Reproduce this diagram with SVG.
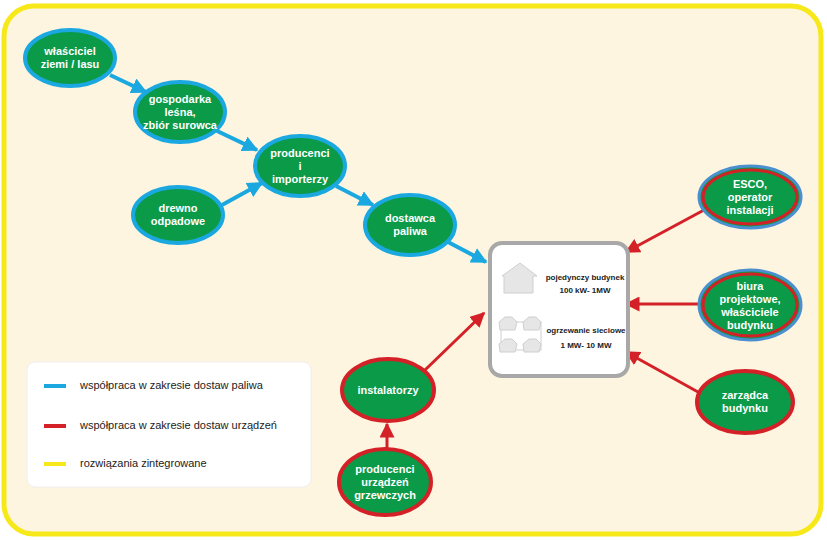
<svg xmlns="http://www.w3.org/2000/svg" width="827" height="540" viewBox="0 0 827 540">
<defs>
<style>
.n{fill:#0b9a48}
.b{stroke:#1ba8e0;stroke-width:4}
.r{stroke:#d42128;stroke-width:4}
.t{font-family:"Liberation Sans",Arial,sans-serif;font-weight:bold;font-size:11px;fill:#fff;text-anchor:middle}
.bl{stroke:#1ba8e0;stroke-width:4;fill:none;marker-end:url(#ab)}
.rl{stroke:#d42128;stroke-width:3;fill:none;marker-end:url(#ar)}
.lg{font-family:"Liberation Sans",Arial,sans-serif;font-size:11px;fill:#222}
.s{font-family:"Liberation Sans",Arial,sans-serif;font-weight:bold;font-size:8px;fill:#222}
.h{fill:#e6e6e6;stroke:#cfcfcf;stroke-width:1}
</style>
<marker id="ab" viewBox="0 0 10 10" refX="9" refY="5" markerWidth="4" markerHeight="4" orient="auto"><path d="M0 0L10 5L0 10z" fill="#1ba8e0"/></marker>
<marker id="ar" viewBox="0 0 10 10" refX="9" refY="5" markerWidth="5" markerHeight="5" orient="auto"><path d="M0 0L10 5L0 10z" fill="#d42128"/></marker>
</defs>
<rect x="4" y="6" width="817" height="528" rx="30" fill="#fdf5df" stroke="#f7e81a" stroke-width="5"/>
<g id="connectors">
<path class="bl" d="M110 75L146 92"/>
<path class="bl" d="M215 130L257 150"/>
<path class="bl" d="M222 205L262 183"/>
<path class="bl" d="M336 186L373 205"/>
<path class="bl" d="M448 242L486 262"/>
<path class="rl" d="M704 210L626 252"/>
<path class="rl" d="M698 304L626 304"/>
<path class="rl" d="M698 392L626 352"/>
<path class="rl" d="M425 370L484 313"/>
<path class="rl" d="M387 450L387 424"/>
</g>
<g id="n1"><ellipse class="n b" cx="70" cy="58" rx="45" ry="28"/><text class="t" x="70" y="55">właściciel</text><text class="t" x="70" y="68">ziemi / lasu</text></g>
<g id="n2"><ellipse class="n b" cx="180" cy="112" rx="45" ry="30"/><text class="t" x="180" y="103">gospodarka</text><text class="t" x="180" y="116">leśna,</text><text class="t" x="180" y="129">zbiór surowca</text></g>
<g id="n3"><ellipse class="n b" cx="300" cy="166" rx="45" ry="30"/><text class="t" x="300" y="157">producenci</text><text class="t" x="300" y="170">i</text><text class="t" x="300" y="183">importerzy</text></g>
<g id="n4"><ellipse class="n b" cx="178" cy="215" rx="45" ry="28"/><text class="t" x="178" y="212">drewno</text><text class="t" x="178" y="225">odpadowe</text></g>
<g id="n5"><ellipse class="n b" cx="410" cy="225" rx="45" ry="30"/><text class="t" x="410" y="222">dostawca</text><text class="t" x="410" y="235">paliwa</text></g>
<g id="n6"><ellipse class="n" cx="750" cy="197" rx="51" ry="31" stroke="#4a90d0" stroke-width="3"/><ellipse cx="750" cy="197" rx="47" ry="27" fill="none" stroke="#d42128" stroke-width="3"/><text class="t" x="750" y="188">ESCO,</text><text class="t" x="750" y="201">operator</text><text class="t" x="750" y="214">instalacji</text></g>
<g id="n7"><ellipse class="n" cx="750" cy="305" rx="51" ry="35" stroke="#4a90d0" stroke-width="3"/><ellipse cx="750" cy="305" rx="47" ry="31" fill="none" stroke="#d42128" stroke-width="3"/><text class="t" x="750" y="290">biura</text><text class="t" x="750" y="303">projektowe,</text><text class="t" x="750" y="316">właściciele</text><text class="t" x="750" y="329">budynku</text></g>
<g id="n8"><ellipse class="n r" cx="745" cy="402" rx="48" ry="31"/><text class="t" x="745" y="399">zarządca</text><text class="t" x="745" y="412">budynku</text></g>
<g id="n9"><ellipse class="n r" cx="388" cy="390" rx="46" ry="31"/><text class="t" x="388" y="394">instalatorzy</text></g>
<g id="n10"><ellipse class="n r" cx="385" cy="482" rx="46" ry="33"/><text class="t" x="385" y="473">producenci</text><text class="t" x="385" y="486">urządzeń</text><text class="t" x="385" y="499">grzewczych</text></g>
<g id="box">
<rect x="490" y="243" width="138" height="133" rx="12" fill="#fff" stroke="#a8a8a8" stroke-width="4"/>
<path class="h" d="M502 276L520 263L537 276L533 276L533 293L504 293L504 276z"/>
<text class="s" x="585" y="280" text-anchor="middle">pojedynczy budynek</text>
<text class="s" x="585" y="293" text-anchor="middle">100 kW- 1MW</text>
<rect x="501" y="322" width="40" height="28" fill="none" stroke="#cfcfcf"/>
<path class="h" d="M499 322L505 317L512 317L517 322L515 330L500 330z"/>
<path class="h" d="M523 322L529 317L536 317L541 322L539 330L524 330z"/>
<path class="h" d="M499 344L505 339L512 339L517 344L515 352L500 352z"/>
<path class="h" d="M523 344L529 339L536 339L541 344L539 352L524 352z"/>
<text class="s" x="586" y="333" text-anchor="middle">ogrzewanie sieciowe</text>
<text class="s" x="586" y="348" text-anchor="middle">1 MW- 10 MW</text>
</g>
<g id="legend">
<rect x="27" y="362" width="284" height="125" rx="8" fill="#fff" stroke="#eee"/>
<rect x="44" y="384" width="22" height="4" fill="#1ba8e0"/><text class="lg" x="80" y="389">współpraca w zakresie dostaw paliwa</text>
<rect x="44" y="424" width="22" height="4" fill="#d42128"/><text class="lg" x="80" y="429">współpraca w zakresie dostaw urządzeń</text>
<rect x="44" y="462" width="22" height="4" fill="#f7e81a"/><text class="lg" x="80" y="467">rozwiązania zintegrowane</text>
</g>
</svg>
